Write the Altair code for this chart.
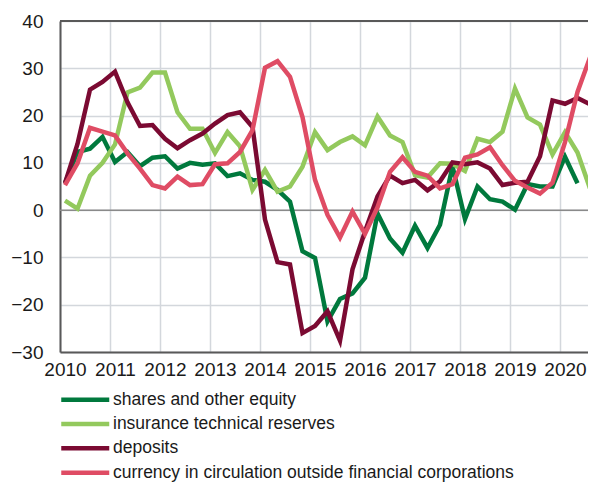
import altair as alt
import pandas as pd

series_names = [
    "shares and other equity",
    "insurance technical reserves",
    "deposits",
    "currency in circulation outside financial corporations",
]
series_colors = ["#00793d", "#93c95d", "#7b0a32", "#df4c64"]

# quarterly observations, first quarter of 2010 onwards
shares = [5.7, 12.3, 13.0, 15.5, 10.2, 12.3, 9.3, 11.1, 11.4, 8.8,
          10.0, 9.6, 9.9, 7.2, 7.8, 6.4, 6.0, 4.3, 1.8, -8.7,
          -10.1, -23.5, -18.8, -17.6, -14.3, -0.7, -6.0, -9.0, -3.3, -8.0,
          -3.1, 9.3, -1.9, 5.0, 2.3, 1.8, 0.1, 5.5, 5.0, 5.0,
          11.3, 5.7]
insurance = [2.0, 0.3, 7.3, 10.0, 13.9, 24.9, 25.9, 29.1, 29.1, 20.7,
             17.2, 17.2, 12.1, 16.5, 13.5, 4.3, 8.5, 3.9, 5.0, 9.2,
             16.5, 12.7, 14.4, 15.6, 13.7, 19.8, 15.8, 14.4, 7.4, 6.9,
             9.9, 9.8, 8.3, 15.1, 14.4, 16.6, 25.7, 19.6, 18.1, 11.8,
             16.5, 12.2, 4.6]
deposits = [5.7, 14.0, 25.5, 27.1, 29.3, 22.8, 17.8, 18.0, 15.1, 13.1,
            14.8, 16.2, 18.3, 20.1, 20.7, 17.6, -2.0, -11.0, -11.5, -26.0,
            -24.5, -21.4, -27.6, -12.5, -4.5, 2.9, 7.3, 5.7, 6.4, 4.2,
            6.1, 10.1, 9.7, 10.1, 8.8, 5.3, 5.8, 6.0, 11.4, 23.2,
            22.5, 23.7, 22.4]
currency = [5.3, 9.9, 17.4, 16.6, 15.8, 12.0, 8.8, 5.3, 4.6, 7.1,
            5.3, 5.5, 9.7, 9.9, 12.3, 16.9, 30.1, 31.5, 28.2, 19.7,
            6.4, -1.0, -5.8, -0.3, -5.0, 0.6, 8.1, 11.2, 8.1, 7.3,
            4.6, 5.5, 11.1, 11.8, 13.3, 9.5, 6.2, 4.8, 3.5, 5.8,
            14.4, 25.0, 32.3]

year_ticks = list(range(2010, 2021))
y_ticks = [-30, -20, -10, 0, 10, 20, 30, 40]

rows = []
for k, (name, vals) in enumerate(zip(series_names, [shares, insurance, deposits, currency])):
    for i, v in enumerate(vals):
        rows.append({"t": 2010.1 + 0.25 * i, "v": v, "s": name, "k": k, "i": i})
df = pd.DataFrame(rows)

FONT = "Liberation Sans"
YSCALE = alt.Scale(domain=[-30, 40], nice=False)

x = alt.X(
    "t:Q",
    scale=alt.Scale(domain=[2010, 2020.56], nice=False, zero=False),
    axis=alt.Axis(values=year_ticks, format="d", title=None, labelOffset=5,
                  labelPadding=8, labelFlush=False, ticks=False,
                  labelFontSize=19, labelFont=FONT, labelColor="#1a1a1a",
                  domainColor="#595959", domainWidth=2,
                  gridColor="#d3d7dc", gridWidth=1.5),
)
y = alt.Y(
    "v:Q",
    scale=YSCALE,
    axis=alt.Axis(values=y_ticks, title=None, labelPadding=17, ticks=False,
                  labelFontSize=19, labelFont=FONT, labelColor="#1a1a1a",
                  domainColor="#595959", domainWidth=2,
                  gridColor="#d3d7dc", gridWidth=1.5),
)

lines = alt.Chart(df).mark_line(strokeWidth=4.5).encode(
    x=x,
    y=y,
    color=alt.Color(
        "s:N",
        scale=alt.Scale(domain=series_names, range=series_colors),
        legend=alt.Legend(
            orient="none", legendX=16.5, legendY=370, title=None,
            symbolType="M-4,0H4", symbolSize=144, symbolStrokeWidth=4.5,
            labelFontSize=17.5, labelFont=FONT, labelColor="#1a1a1a",
            labelOffset=19, rowPadding=5.3, padding=0, labelLimit=600,
        ),
    ),
    detail="k:O",
    order="i:Q",
)

zero = alt.Chart(pd.DataFrame({"z": [0]})).mark_rule(color="#8a8a8a", strokeWidth=1.5).encode(
    y=alt.Y("z:Q", scale=YSCALE)
)
top = alt.Chart(pd.DataFrame({"z": [40]})).mark_rule(color="#595959", strokeWidth=2).encode(
    y=alt.Y("z:Q", scale=YSCALE)
)

chart = alt.layer(zero, top, lines).properties(
    width=528, height=331,
    autosize=alt.AutoSizeParams(type="none"),
    padding={"left": 52, "top": 13, "right": 0, "bottom": 130},
).configure_view(strokeWidth=0)

chart.save("out.html", embed_options={"renderer": "svg", "actions": False})
